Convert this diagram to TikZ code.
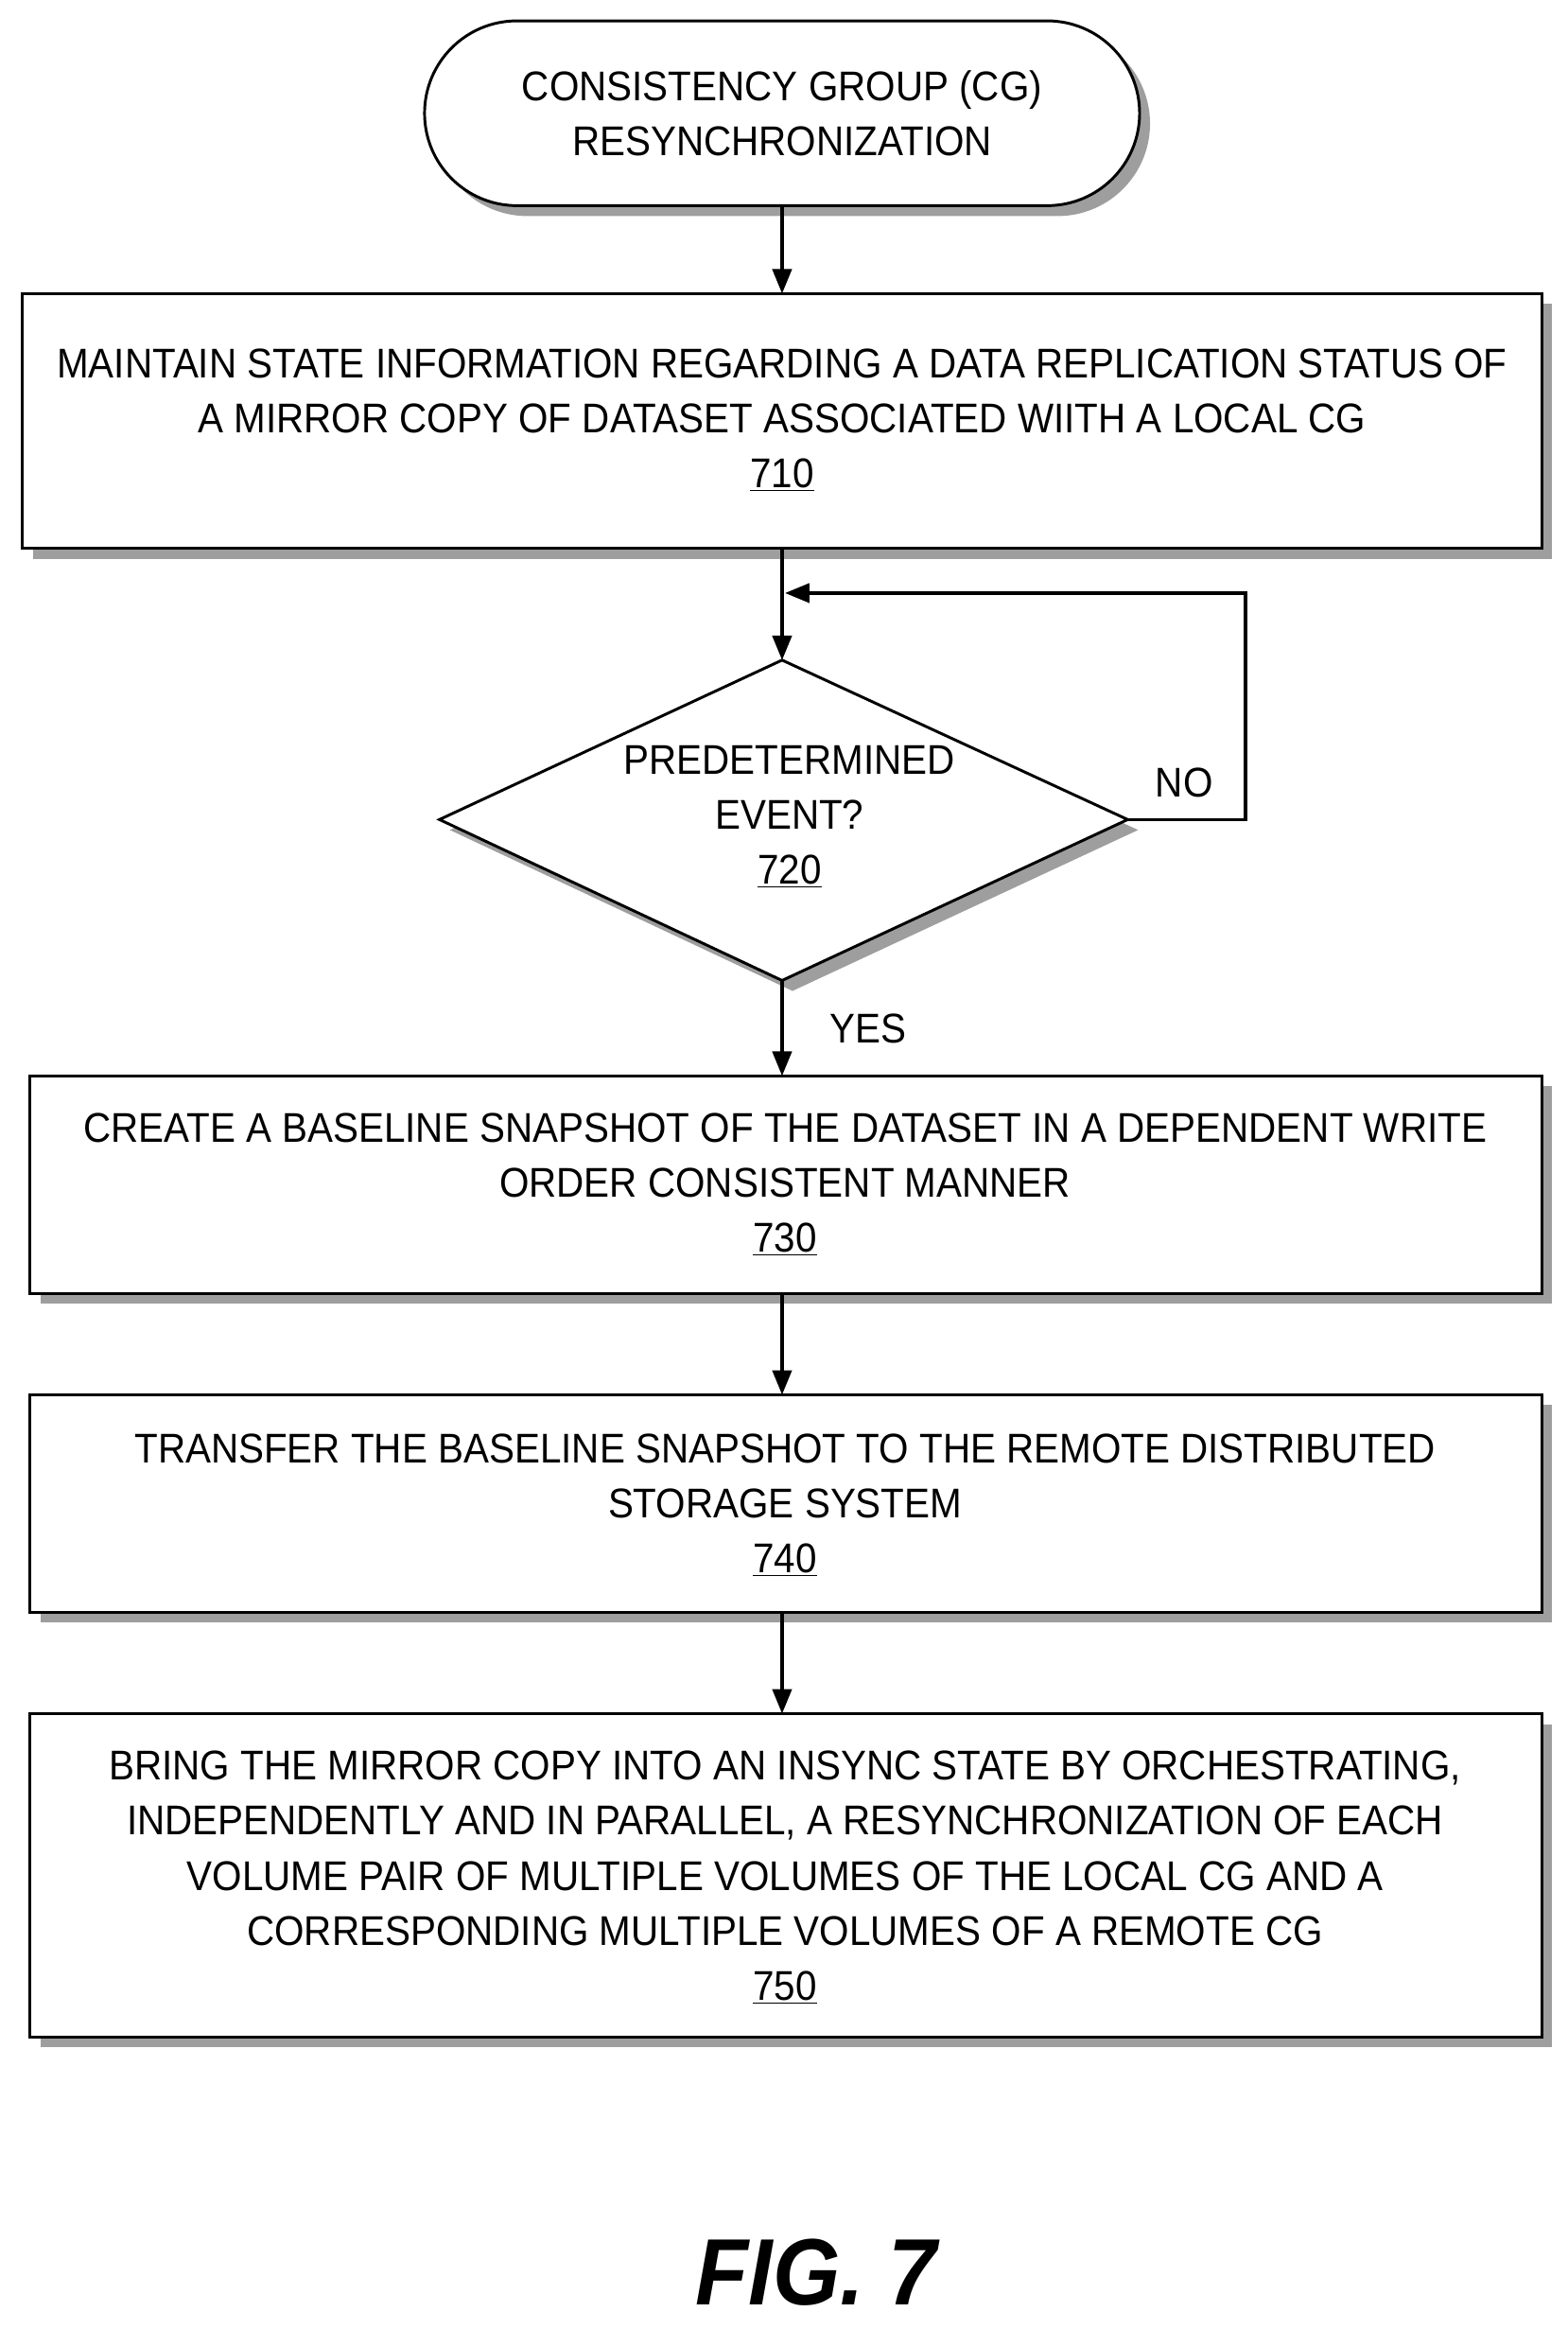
\documentclass[tikz,border=0pt]{standalone}
\usepackage{fontspec}
\setmainfont{Liberation Sans}[FakeStretch=0.92]
\usetikzlibrary{shapes.geometric,arrows.meta}
\begin{document}
\begin{tikzpicture}[x=0.03cm,y=-0.03cm,
  txt/.style={align=center,inner sep=0pt,font=\fontsize{23.8}{31.5}\selectfont},
  bx/.style={draw,line width=1.6pt,fill=white},
  shd/.style={fill=black!38},
  arr/.style={line width=1.8pt,-{Triangle[length=14pt,width=11pt]}}]
\useasboundingbox (0,0) rectangle (1052,1563);
% terminal
\fill[shd,rounded corners=62*0.03cm] (292,21) rectangle (772,145);
\draw[bx,rounded corners=62*0.03cm] (285,14) rectangle (765,138);
\node[txt] (t) at (525,76) {CONSISTENCY GROUP (CG)\\RESYNCHRONIZATION};
% 710
\fill[shd] (22,204) rectangle (1042,375);
\draw[bx] (15,197) rectangle (1035,368);
\node[txt] (b710) at (525,282) {MAINTAIN STATE INFORMATION REGARDING A DATA REPLICATION STATUS OF\\A MIRROR COPY OF DATASET ASSOCIATED WIITH A LOCAL CG\\\underline{710}};
% diamond
\fill[shd] (302,557) -- (532,450) -- (764,557) -- (532,665) -- cycle;
\draw[bx,line join=miter] (295,550) -- (525,443) -- (757,550) -- (525,658) -- cycle;
\node[txt] (d720) at (530,548) {PREDETERMINED\\EVENT?\\\underline{720}};
% 730
\fill[shd] (27,729) rectangle (1042,875);
\draw[bx] (20,722) rectangle (1035,868);
\node[txt] (b730) at (527,795) {CREATE A BASELINE SNAPSHOT OF THE DATASET IN A DEPENDENT WRITE\\ORDER CONSISTENT MANNER\\\underline{730}};
% 740
\fill[shd] (27,943) rectangle (1042,1089);
\draw[bx] (20,936) rectangle (1035,1082);
\node[txt] (b740) at (527,1010) {TRANSFER THE BASELINE SNAPSHOT TO THE REMOTE DISTRIBUTED\\STORAGE SYSTEM\\\underline{740}};
% 750
\fill[shd] (27,1157) rectangle (1042,1374);
\draw[bx] (20,1150) rectangle (1035,1367);
\node[txt] (b750) at (527,1260) {BRING THE MIRROR COPY INTO AN INSYNC STATE BY ORCHESTRATING,\\INDEPENDENTLY AND IN PARALLEL, A RESYNCHRONIZATION OF EACH\\VOLUME PAIR OF MULTIPLE VOLUMES OF THE LOCAL CG AND A\\CORRESPONDING MULTIPLE VOLUMES OF A REMOTE CG\\\underline{750}};
% connectors
\coordinate (tb) at (525,138); \coordinate (b1t) at (525,197);
\coordinate (b1b) at (525,368); \coordinate (dt) at (525,443);
\coordinate (dr) at (757,550); \coordinate (lp) at (527,398);
\coordinate (db) at (525,658); \coordinate (b3t) at (525,722);
\coordinate (b3b) at (525,868); \coordinate (b4t) at (525,936);
\coordinate (b4b) at (525,1082); \coordinate (b5t) at (525,1150);
\draw[arr] (tb) -- (b1t);
\draw[arr] (b1b) -- (dt);
\draw[arr] (dr) -- (836,550) -- (836,398) -- (lp);
\draw[arr] (db) -- (b3t);
\draw[arr] (b3b) -- (b4t);
\draw[arr] (b4b) -- (b5t);
\node[txt] (no) at (795,525) {NO};
\node[txt] (yes) at (583,690) {YES};
\node[inner sep=0pt,font=\fontsize{54}{56}\selectfont\bfseries\itshape] (fig) at (548,1525) {FIG. 7};
\end{tikzpicture}
\end{document}
